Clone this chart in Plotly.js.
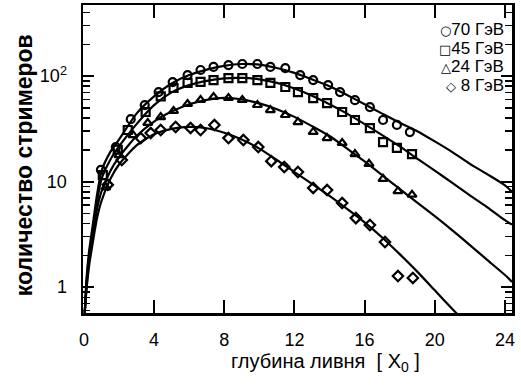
<!DOCTYPE html>
<html>
<head>
<meta charset="utf-8">
<script src="https://cdn.plot.ly/plotly-3.0.1.min.js"></script>
<style>html,body{margin:0;padding:0;background:#fff;}#chart{width:521px;height:387px;}</style>
</head>
<body>
<div id="chart"></div>
<script>
// ---- data ----
const seriesNames = ['70 ГэВ', '45 ГэВ', '24 ГэВ', '8 ГэВ'];
const legendSymbols = ['○', '□', '△', '◇'];

const x70 = [0.97,1.82,2.67,3.47,4.26,5.06,5.91,6.65,7.39,8.24,9.03,9.89,10.63,11.48,12.33,13.07,13.92,14.6,15.45,16.3,17.05,17.84,18.58];
const y70 = [12.9,21.2,39,53,70.5,87.7,102,114,122,127,130,130,122,119,102,91.6,82,70.5,59,50.8,38.3,34.4,29.4];

const x45 = [1.08,1.93,2.5,3.52,4.38,5.11,5.91,6.65,7.39,8.24,9.03,9.89,10.63,11.48,12.2,13.07,13.86,14.72,15.45,16.3,17.05,17.84,18.7];
const y45 = [11.5,20,30.8,45.6,64,77,86,88,91.6,95.7,95.7,91.6,86,78.7,70.5,61.8,55.4,45.6,38.3,32.1,23.6,20.8,18.2];

const x24 = [1.25,2.0,2.8,3.64,4.38,5.11,5.91,6.65,7.39,8.24,9.03,9.89,10.63,11.48,12.2,13.07,13.86,14.72,15.45,16.25,17.05,17.9,18.7];
const y24 = [8.8,17.8,27.5,35.9,40.8,46.6,54.3,59.3,63.3,61.9,59.3,53.1,47.6,42.7,36.6,29.5,25.8,23.2,18.2,14.7,10.6,8.1,7.5];

const x8 = [1.36,2.16,3.24,3.81,4.38,5.23,6.08,6.65,7.44,8.24,9.09,9.94,10.68,11.42,12.2,13.07,13.86,14.72,15.5,16.3,17.16,17.9,18.75];
const y8 = [9.3,16,25.8,28.8,30.8,32.9,32.2,30.8,34.3,25.8,24.7,21.2,15.6,13.7,12.3,8.7,8.3,6.25,4.5,3.87,2.67,1.27,1.22];

// fitted curves
const cx = [0.05,0.15,0.3,0.5,0.75,1,1.5,2,3,4,5,6,7,8,9,10,11,12,13,14,15,16,17,18,19,20,21,22,23,24,24.4];
const cy70 = [0.57,1.2,2.2,3.8,7.5,12.5,19,25,44,64,85,102,115,125,130,128,119,107,93,80,66,54,44,36,30,24,19,14.7,11.7,9.2,8.0];
const cy45 = [0.57,1.1,2.0,3.4,6.5,10.5,16,21.5,35,53,70,82,90,95,96,93,86,76,65,54,44,35,27.5,21.5,16.5,12.7,9.7,7.4,5.7,4.3,3.9];
const cy24 = [0.57,1.0,1.8,3.0,5.5,8,12.5,17,27,37,46,54,59.5,62,60,55,48.5,41,33.5,27,20.5,15.5,11.5,8.5,6.3,4.7,3.45,2.5,1.8,1.3,1.12];
const cx8 = [0.05,0.15,0.3,0.5,0.75,1,1.5,2,3,4,5,6,7,8,9,10,11,12,13,14,15,16,17,18,19,20,21,21.3];
const cy8 = [0.57,0.95,1.6,2.6,4.5,6.5,10.5,14.5,22,28,31.5,33,32,29,25,20.5,16,12.3,9.5,7.3,5.5,4.1,2.95,2.05,1.4,0.93,0.62,0.55];

const xTicks = [0,4,8,12,16,20,24];
const yTicks = [1,10,100];
const yTickText = ['1','10','10<sup>2</sup>'];
const yMinor = [0.6,0.7,0.8,0.9,2,3,4,5,6,7,8,9,20,30,40,50,60,70,80,90,200,300,400];

// ---- traces ----
const FONT = 'Liberation Sans, Arial, Helvetica, sans-serif';
const pts = [[x70,y70,'circle-open'],[x45,y45,'square-open'],[x24,y24,'triangle-up-open'],[x8,y8,'diamond-open']];
const curves = [[cx,cy70],[cx,cy45],[cx,cy24],[cx8,cy8]];
const traces = [];
curves.forEach((c,i)=>{
  traces.push({x:c[0], y:c[1], type:'scatter', mode:'lines', name:seriesNames[i],
    line:{color:'#000', width:2.2, shape:'spline', smoothing:0.6}, showlegend:false, hoverinfo:'skip'});
});
pts.forEach((p,i)=>{
  traces.push({x:p[0], y:p[1], type:'scatter', mode:'markers', name:seriesNames[i],
    marker:{symbol:p[2], size:8, color:'#000', line:{color:'#000', width:2.2}}, showlegend:false});
});

const annotations = seriesNames.map((n,i)=>({
  xref:'paper', yref:'paper', x:0.985, y:0.92 - i*0.06, xanchor:'right', yanchor:'middle',
  text:'<span style="font-family:DejaVu Sans;font-size:13px;font-weight:bold">'+legendSymbols[i]+'</span>'+(i===3?' ':'')+n,
  showarrow:false, font:{family:FONT, size:17, color:'#000'}
}));
// x-axis title placed like the reference (slightly right of centre)
annotations.push({
  xref:'paper', yref:'paper', x:0.565, y:-0.115, xanchor:'center', yanchor:'top',
  text:'глубина ливня  [ X<sub>0</sub> ]', showarrow:false,
  font:{family:FONT, size:20, color:'#000'}
});
// y-axis title
annotations.push({
  xref:'paper', yref:'paper', x:-0.1375, y:0.48, xanchor:'center', yanchor:'middle', textangle:-90,
  text:'<b>количество стримеров</b>', showarrow:false,
  font:{family:FONT, size:23, color:'#000'}
});

const layout = {
  width:521, height:387,
  margin:{l:83, r:9, t:5, b:74},
  paper_bgcolor:'#fff', plot_bgcolor:'#fff',
  showlegend:false,
  font:{family:FONT, color:'#000'},
  xaxis:{
    range:[-0.05,24.4], tickvals:xTicks, ticks:'inside', ticklen:13, tickwidth:2, tickcolor:'#000',
    showline:true, linewidth:2.5, linecolor:'#000', mirror:'ticks', showgrid:false, zeroline:false,
    tickfont:{family:FONT, size:18, color:'#000'}, ticklabelstandoff:9
  },
  yaxis:{
    type:'log', range:[-0.246,2.673], tickvals:yTicks, ticktext:yTickText,
    ticks:'inside', ticklen:11, tickwidth:2, tickcolor:'#000',
    minor:{tickvals:yMinor, ticks:'inside', ticklen:7, tickwidth:1.5, tickcolor:'#000', showgrid:false},
    showline:true, linewidth:2.5, linecolor:'#000', mirror:'ticks', showgrid:false, zeroline:false,
    tickfont:{family:FONT, size:18, color:'#000'}, ticklabelstandoff:10
  },
  annotations: annotations
};

Plotly.newPlot('chart', traces, layout, {staticPlot:true, displayModeBar:false});
</script>
</body>
</html>
